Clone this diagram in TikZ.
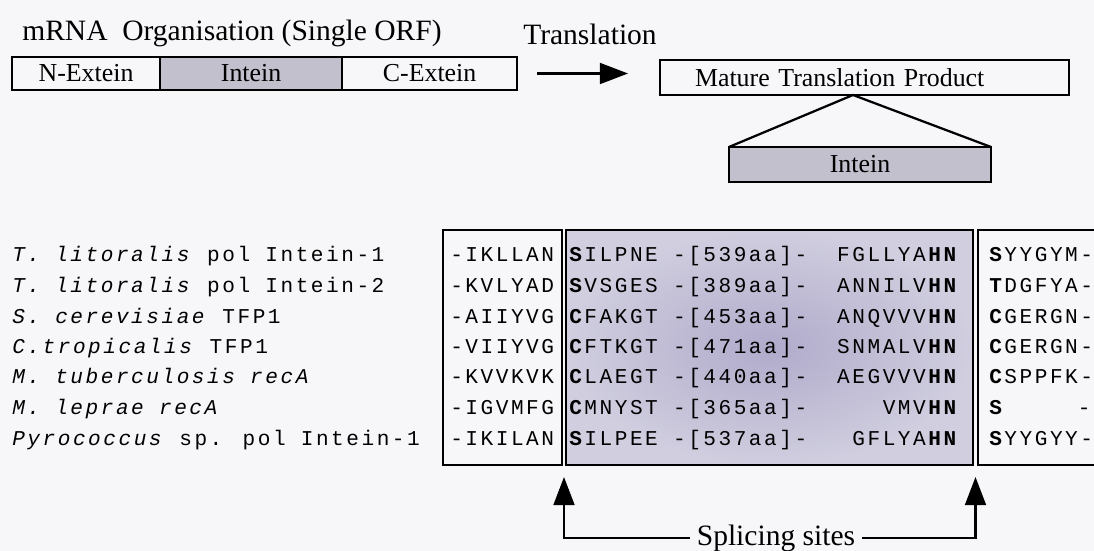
\documentclass[tikz,border=0pt]{standalone}
\usepackage{fontspec}
\setmainfont{Liberation Serif}
\newfontfamily\seqfont{Liberation Mono}[LetterSpace=12]
\usepackage{tikz}
\usetikzlibrary{
	arrows.meta,
	positioning
}
\usepackage{xcolor}
\definecolor{paper}{RGB}{247,247,249}
\definecolor{inteingrey}{RGB}{194,192,204}
\definecolor{coremid}{RGB}{176,171,203}
\definecolor{coreedge}{RGB}{208,206,223}

\begin{document}
\begin{tikzpicture}[x=0.025cm,y=-0.025cm,
		>={Triangle[length=0.7cm,width=0.52cm]},
		big/.style={font=\fontsize{21}{24}\selectfont,inner sep=0pt},
		part/.style={draw,line width=1.6pt,inner sep=0pt,outer sep=0pt,
			minimum height=0.825cm,font=\fontsize{18.4}{20}\selectfont},
		frame/.style={draw,line width=1.6pt,inner sep=0pt,outer sep=0pt,
			minimum height=5.875cm},
		seq/.style={font=\seqfont\fontsize{15}{18}\selectfont,inner sep=0pt}]
		
		\useasboundingbox (0,0) rectangle (1094,551);
		\fill[paper] (0,0) rectangle (1094,551);
		
		% mRNA organisation
		\node[big,anchor=base west] (title) at (22,41) {mRNA\ \ Organisation (Single ORF)};
		\node[part,minimum width=3.7cm,anchor=north west] (mnex) at (12,57) {N-Extein};
		\node[part,fill=inteingrey,minimum width=4.55cm,right=0pt of mnex] (mint) {Intein};
		\node[part,minimum width=4.375cm,right=0pt of mint] (mcex) {C-Extein};
		
		% translation
		\node[big,anchor=base] (trans) at (590,45) {Translation};
		\node[part,minimum height=0.875cm,text width=8.475cm,align=left,inner xsep=0.875cm,
			anchor=north west] (mature) at (660,60) {Mature Translation Product};
		\draw[->,line width=1.6pt,shorten <=0.5cm,shorten >=0.8cm] (mcex.east) -- (mcex.east -| mature.west);
		
		% excised intein
		\coordinate (apex) at (853,95);
		\node[part,fill=inteingrey,minimum width=6.55cm,minimum height=0.875cm,
			anchor=north] (freeint) at (860,147) {Intein};
		\draw[line width=1.6pt] (freeint.north west) -- (apex) -- (freeint.north east);
		
		% alignment
		\node[frame,minimum width=2.975cm,anchor=north west] (nbox) at (443,230) {};
		\node[frame,inner color=coremid,outer color=coreedge,minimum width=10.175cm,
			anchor=north west] (cbox) at (566,230) {};
		\draw[line width=1.6pt] (1096,230) -- (978,230) -- (978,465) -- (1096,465);
		
		\foreach \i/\spec/\nex/\core/\tail/\cex in {
			0/{\textit{T. litoralis} pol Intein-1}/{-IKLLAN}/{\textbf{S}ILPNE -[539aa]-}/{FGLLYA\textbf{HN}}/{\textbf{S}YYGYM-},
			1/{\textit{T. litoralis} pol Intein-2}/{-KVLYAD}/{\textbf{S}VSGES -[389aa]-}/{ANNILV\textbf{HN}}/{\textbf{T}DGFYA-},
			2/{\textit{S. cerevisiae} TFP1}/{-AIIYVG}/{\textbf{C}FAKGT -[453aa]-}/{ANQVVV\textbf{HN}}/{\textbf{C}GERGN-},
			3/{\textit{C.tropicalis} TFP1}/{-VIIYVG}/{\textbf{C}FTKGT -[471aa]-}/{SNMALV\textbf{HN}}/{\textbf{C}GERGN-},
			4/{\textit{M. tuberculosis recA}}/{-KVVKVK}/{\textbf{C}LAEGT -[440aa]-}/{AEGVVV\textbf{HN}}/{\textbf{C}SPPFK-},
			5/{\textit{M. leprae recA}}/{-IGVMFG}/{\textbf{C}MNYST -[365aa]-}/{VMV\textbf{HN}}/{\textbf{S}\phantom{SPPFK}-},
			6/{\textit{Pyrococcus} sp. pol Intein-1}/{-IKILAN}/{\textbf{S}ILPEE -[537aa]-}/{GFLYA\textbf{HN}}/{\textbf{S}YYGYY-}
		}{
			\node[seq,anchor=base west] (spec\i) at (12,{262+30.5*\i}) {\spec};
			\node[seq,anchor=base west] (nex\i) at (450,{262+30.5*\i}) {\nex};
			\node[seq,anchor=base west] (core\i) at (569,{262+30.5*\i}) {\core};
			\node[seq,anchor=base east] (tail\i) at (959,{262+30.5*\i}) {\tail};
			\node[seq,anchor=base west] (cex\i) at (989,{262+30.5*\i}) {\cex};
		}
		
		% splicing sites
		\coordinate (lsite) at (564,465);
		\coordinate (rsite) at (975.5,465);
		\node[big,inner sep=5pt] (splice) at (776,538) {Splicing sites};
		\draw[->,line width=1.6pt,shorten >=0.3cm] (splice.west) -| (lsite);
		\draw[->,line width=1.6pt,shorten >=0.3cm] (splice.east) -| (rsite);
		
	\end{tikzpicture}
\end{document}
